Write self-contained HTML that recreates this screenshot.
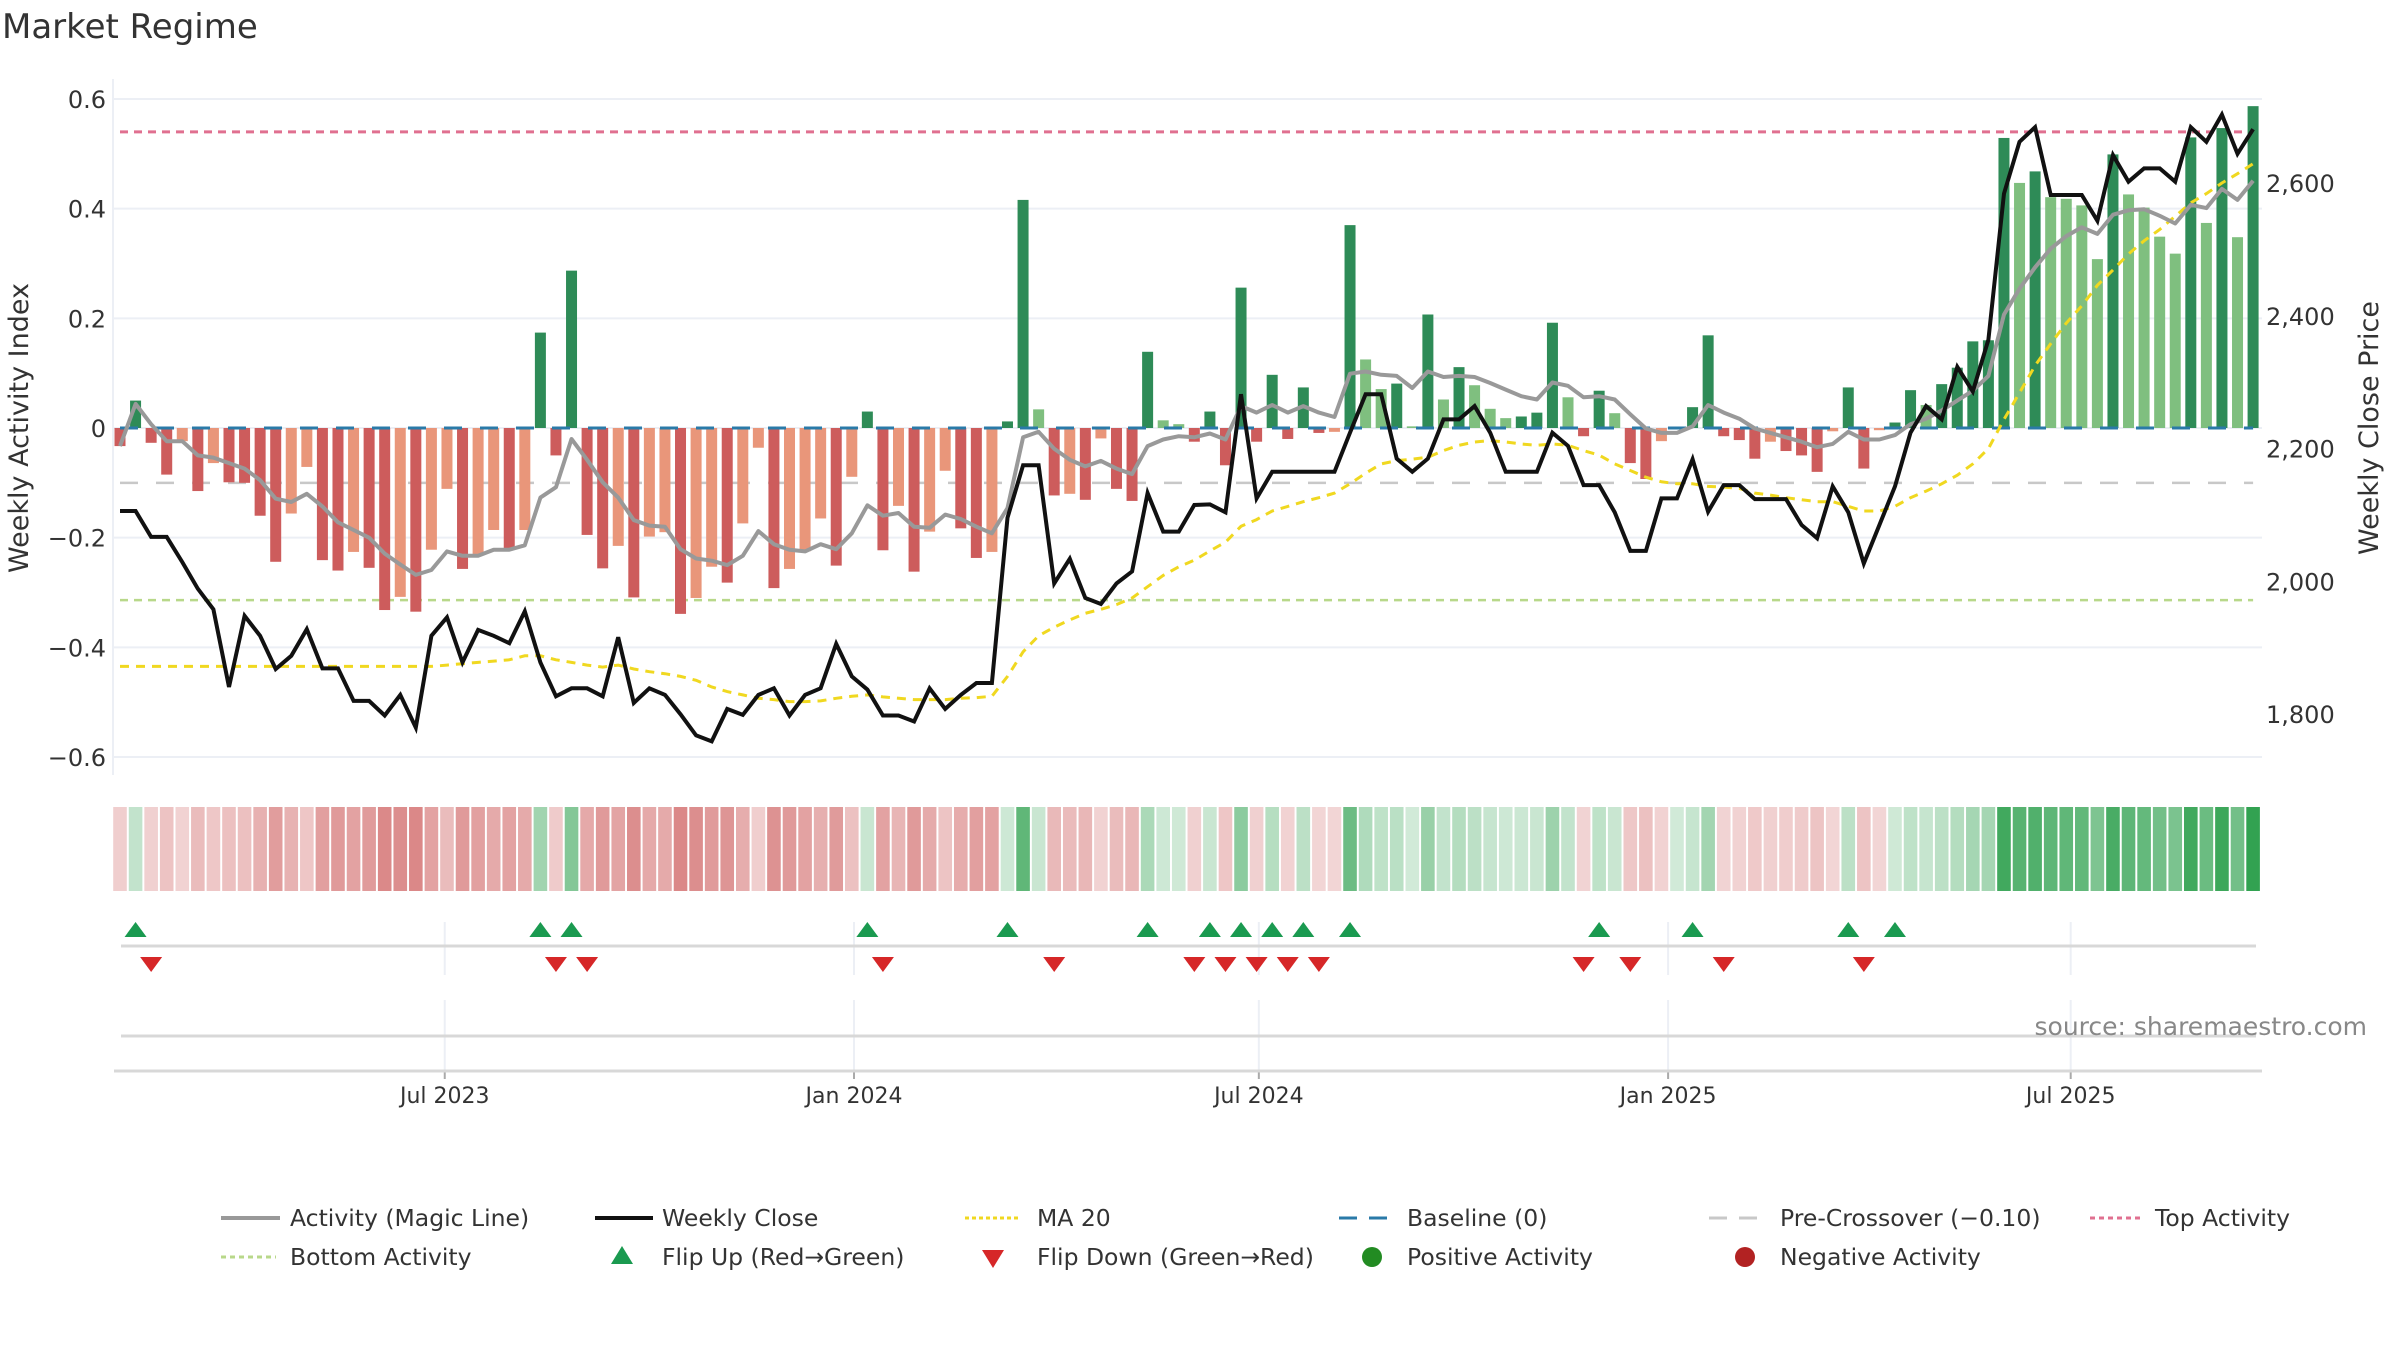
<!DOCTYPE html>
<html><head><meta charset="utf-8"><title>Market Regime</title>
<style>
html,body{margin:0;padding:0;background:#fff;}
svg{display:block;font-family:"DejaVu Sans","Liberation Sans",sans-serif;}
</style></head>
<body>
<svg id="chart" width="2400" height="1350" viewBox="0 0 2400 1350" xmlns="http://www.w3.org/2000/svg">
<rect width="2400" height="1350" fill="#fff"/>
<text x="2" y="38" font-size="34" fill="#333">Market Regime</text>
<g id="grid"></g>
<g id="refs"></g>
<g id="bars"></g>
<g id="lines"></g>
<g id="axes"></g>
<g id="heat"></g>
<g id="dates"></g>
<g id="flips"></g>
<text x="28" y="428" font-size="27" fill="#333" text-anchor="middle" transform="rotate(-90 28 428)">Weekly Activity Index</text>
<text x="2378" y="428" font-size="27" fill="#333" text-anchor="middle" transform="rotate(-90 2378 428)">Weekly Close Price</text>
<text x="2367" y="1035" font-size="25" fill="#888" text-anchor="end">source: sharemaestro.com</text>
<g id="legend" font-size="23.5" fill="#333">
  <g><line x1="221" y1="1218" x2="280" y2="1218" stroke="#999" stroke-width="4"/><text x="290" y="1226">Activity (Magic Line)</text></g>
  <g><line x1="595" y1="1218" x2="653" y2="1218" stroke="#111" stroke-width="4"/><text x="662" y="1226">Weekly Close</text></g>
  <g><line x1="965" y1="1218" x2="1020" y2="1218" stroke="#f0d820" stroke-width="3" stroke-dasharray="4 3"/><text x="1037" y="1226">MA 20</text></g>
  <g><line x1="1339" y1="1218" x2="1393" y2="1218" stroke="#2a7aa8" stroke-width="3" stroke-dasharray="18 12"/><text x="1407" y="1226">Baseline (0)</text></g>
  <g><line x1="1709" y1="1218" x2="1764" y2="1218" stroke="#c8c8c8" stroke-width="3" stroke-dasharray="18 12"/><text x="1780" y="1226">Pre-Crossover (−0.10)</text></g>
  <g><line x1="2090" y1="1218" x2="2141" y2="1218" stroke="#e07090" stroke-width="3" stroke-dasharray="5 4"/><text x="2155" y="1226">Top Activity</text></g>
  <g><line x1="221" y1="1257" x2="276" y2="1257" stroke="#b8d88a" stroke-width="3" stroke-dasharray="5 4"/><text x="290" y="1265">Bottom Activity</text></g>
  <g><polygon points="622,1246 633,1264 611,1264" fill="#1a9a50"/><text x="662" y="1265">Flip Up (Red→Green)</text></g>
  <g><polygon points="982,1250 1004,1250 993,1268" fill="#d62728"/><text x="1037" y="1265">Flip Down (Green→Red)</text></g>
  <g><circle cx="1372" cy="1257" r="10" fill="#228b22"/><text x="1407" y="1265">Positive Activity</text></g>
  <g><circle cx="1745" cy="1257" r="10" fill="#b22222"/><text x="1780" y="1265">Negative Activity</text></g>
</g>
</svg>
<script>
// ---- data ----
const startDate = "2023-02-05";
const activity = [-0.033,0.05,-0.027,-0.085,-0.024,-0.115,-0.064,-0.099,-0.10,-0.16,-0.244,-0.156,-0.071,-0.241,-0.26,-0.226,-0.255,-0.332,-0.308,-0.335,-0.222,-0.111,-0.257,-0.23,-0.186,-0.221,-0.186,0.174,-0.05,0.287,-0.195,-0.256,-0.215,-0.309,-0.198,-0.19,-0.339,-0.31,-0.253,-0.282,-0.174,-0.036,-0.292,-0.257,-0.225,-0.165,-0.251,-0.089,0.03,-0.223,-0.142,-0.262,-0.189,-0.078,-0.183,-0.237,-0.226,0.012,0.416,0.034,-0.123,-0.12,-0.131,-0.019,-0.111,-0.133,0.139,0.014,0.007,-0.025,0.03,-0.068,0.256,-0.025,0.097,-0.02,0.074,-0.009,-0.007,0.37,0.125,0.071,0.081,0.003,0.207,0.052,0.111,0.078,0.035,0.018,0.021,0.028,0.192,0.056,-0.015,0.068,0.027,-0.064,-0.093,-0.024,0,0.038,0.169,-0.015,-0.022,-0.056,-0.025,-0.042,-0.05,-0.08,-0.006,0.074,-0.074,-0.004,0.01,0.069,0.042,0.08,0.11,0.158,0.16,0.529,0.447,0.468,0.421,0.418,0.406,0.308,0.499,0.426,0.402,0.349,0.318,0.53,0.374,0.547,0.348,0.587];
const magicLine = [-0.033,0.044,0.007,-0.024,-0.024,-0.05,-0.054,-0.064,-0.074,-0.095,-0.129,-0.135,-0.12,-0.143,-0.172,-0.186,-0.2,-0.229,-0.249,-0.268,-0.259,-0.225,-0.233,-0.233,-0.222,-0.222,-0.214,-0.127,-0.108,-0.02,-0.058,-0.099,-0.127,-0.168,-0.178,-0.18,-0.221,-0.238,-0.242,-0.25,-0.233,-0.188,-0.212,-0.222,-0.225,-0.212,-0.221,-0.192,-0.141,-0.16,-0.155,-0.18,-0.182,-0.158,-0.166,-0.18,-0.192,-0.146,-0.017,-0.007,-0.038,-0.058,-0.07,-0.06,-0.074,-0.084,-0.033,-0.021,-0.015,-0.017,-0.01,-0.021,0.04,0.028,0.042,0.028,0.04,0.028,0.02,0.099,0.103,0.097,0.095,0.073,0.103,0.093,0.095,0.093,0.082,0.07,0.058,0.052,0.083,0.077,0.056,0.058,0.052,0.025,-0.001,-0.009,-0.009,0.003,0.042,0.028,0.017,-0.001,-0.009,-0.017,-0.025,-0.035,-0.029,-0.007,-0.021,-0.021,-0.013,0.007,0.017,0.032,0.05,0.068,0.095,0.207,0.254,0.293,0.327,0.35,0.366,0.354,0.389,0.397,0.399,0.387,0.373,0.407,0.401,0.436,0.416,0.451];
const weeklyClose = [2106,2106,2067,2067,2029,1989,1958,1841,1948,1918,1868,1888,1928,1869,1869,1820,1820,1798,1829,1780,1918,1946,1878,1927,1918,1907,1955,1878,1827,1839,1839,1827,1916,1817,1839,1829,1800,1768,1759,1808,1799,1829,1839,1798,1829,1839,1906,1857,1837,1798,1798,1789,1839,1808,1829,1847,1847,2096,2175,2175,1997,2034,1975,1966,1997,2015,2133,2075,2075,2115,2116,2104,2282,2125,2165,2165,2165,2165,2165,2224,2282,2282,2185,2165,2185,2244,2244,2264,2224,2165,2165,2165,2224,2204,2145,2145,2104,2046,2046,2125,2125,2184,2105,2145,2145,2124,2124,2124,2085,2065,2143,2104,2027,2085,2143,2224,2264,2244,2323,2286,2364,2584,2662,2684,2582,2582,2582,2543,2642,2602,2622,2622,2602,2684,2662,2703,2644,2681];
const ma20 = [1872,1872,1872,1872,1872,1872,1872,1872,1872,1872,1872,1872,1872,1872,1872,1872,1872,1872,1872,1872,1872,1874,1876,1878,1880,1882,1888,1888,1882,1878,1874,1871,1874,1868,1864,1861,1857,1851,1841,1834,1829,1824,1822,1819,1819,1820,1824,1827,1829,1826,1824,1822,1822,1822,1824,1825,1827,1857,1894,1918,1931,1942,1952,1958,1965,1975,1992,2009,2022,2032,2046,2059,2083,2093,2106,2113,2120,2126,2133,2147,2163,2177,2182,2184,2187,2197,2205,2210,2212,2210,2207,2205,2207,2205,2197,2190,2177,2167,2157,2150,2147,2147,2143,2142,2140,2133,2130,2126,2123,2120,2120,2113,2106,2106,2113,2126,2136,2147,2160,2177,2200,2244,2284,2325,2358,2389,2415,2446,2469,2493,2513,2530,2550,2570,2584,2600,2614,2629];
const leftTicks = [0.6,0.4,0.2,0,-0.2,-0.4,-0.6];
const leftTickLabels = ["0.6","0.4","0.2","0","\u22120.2","\u22120.4","\u22120.6"];
const rightTicks = [2600,2400,2200,2000,1800];
const rightTickLabels = ["2,600","2,400","2,200","2,000","1,800"];
const dateTicks = ["2023-07-01","2024-01-01","2024-07-01","2025-01-01","2025-07-01"];
const dateTickLabels = ["Jul 2023","Jan 2024","Jul 2024","Jan 2025","Jul 2025"];
const topActivity = 0.54;
const bottomActivity = -0.314;
const preCrossover = -0.10;
const baseline = 0;

// ---- scales ----
const NS = "http://www.w3.org/2000/svg";
const X0 = 120, STEP = 15.57;
const PL = 113, PR = 2262;
function xS(k){ return X0 + STEP*k; }
function yL(v){ return 428 - v*548.3; }
function yR(p){ return 183 + (2600-p)*0.664; }
function dateK(d){ return (Date.parse(d) - Date.parse(startDate))/(7*86400000); }
function mk(tag, attrs, parent){
  const e = document.createElementNS(NS, tag);
  for (const a in attrs) e.setAttribute(a, attrs[a]);
  parent.appendChild(e); return e;
}
const G = id => document.getElementById(id);

leftTicks.forEach((t,i)=>{
  const gl = mk('line',{x1:PL,x2:PR,y1:yL(t),y2:yL(t),stroke:'#eceff5','stroke-width':2},G('grid'));
  
  
  const tl = mk('text',{x:106,y:yL(t)+9,'font-size':24,fill:'#333','text-anchor':'end'},G('axes'));
  tl.textContent = leftTickLabels[i];
  
  
});
rightTicks.forEach((t,i)=>{
  const tl = mk('text',{x:2266,y:yR(t)+9,'font-size':24,fill:'#333'},G('axes'));
  tl.textContent = rightTickLabels[i];
  
  
});
const ax = mk('line',{x1:PL,x2:PL,y1:79,y2:775,stroke:'#eceff5','stroke-width':2},G('axes'));



const n = activity.length;
const xa = xS(0), xb = xS(n-1);
const r1 = mk('line',{x1:xa,x2:xb,y1:yL(topActivity),y2:yL(topActivity),stroke:'#e07090','stroke-width':3,'stroke-dasharray':'8 6'},G('refs'));


const r2 = mk('line',{x1:xa,x2:xb,y1:yL(bottomActivity),y2:yL(bottomActivity),stroke:'#b8d88a','stroke-width':2.5,'stroke-dasharray':'8 6'},G('refs'));


const r3 = mk('line',{x1:xa,x2:xb,y1:yL(preCrossover),y2:yL(preCrossover),stroke:'#c8c8c8','stroke-width':2.5,'stroke-dasharray':'18 18'},G('refs'));



activity.forEach((v,k)=>{
  const prev = k>0 ? activity[k-1] : v;
  let fill;
  if (v >= 0) fill = (k===0 || v >= prev) ? '#2e8b57' : '#7fbf7f';
  else fill = (k===0 || v <= prev) ? '#cd5c5c' : '#e9967a';
  const y0 = yL(0), y1 = yL(v);
  const b = mk('rect',{x:xS(k)-5.5,width:11,y:Math.min(y0,y1),height:Math.max(0.5,Math.abs(y1-y0)),fill:fill},G('bars'));
  
  
});
const bl = mk('line',{x1:xa,x2:xb,y1:yL(baseline),y2:yL(baseline),stroke:'#2a7aa8','stroke-width':3,'stroke-dasharray':'18 18'},G('refs'));


G('bars').after(bl);

function path(arr, yf){ return arr.map((v,k)=>(k?'L':'M')+xS(k).toFixed(1)+','+yf(v).toFixed(1)).join(''); }
const pMa = mk('path',{d:path(ma20,yR),fill:'none',stroke:'#f0d820','stroke-width':3,'stroke-dasharray':'9 7'},G('lines'));


const pMg = mk('path',{d:path(magicLine,yL),fill:'none',stroke:'#999','stroke-width':4,'stroke-linejoin':'round'},G('lines'));


const pCl = mk('path',{d:path(weeklyClose,yR),fill:'none',stroke:'#111','stroke-width':4,'stroke-linejoin':'miter'},G('lines'));



activity.forEach((v,k)=>{
  const a = Math.min(1, 0.22 + 0.78*Math.abs(v)/0.6);
  const fill = v >= 0 ? 'rgba(46,160,78,'+a.toFixed(2)+')' : 'rgba(205,92,92,'+(0.25+0.5*Math.abs(v)/0.35).toFixed(2)+')';
  const c = mk('rect',{x:xS(k)-6.8,width:13.6,y:807,height:84,fill:fill},G('heat'));
  
  
});

dateTicks.forEach((d,i)=>{
  const x = xS(dateK(d));
  const v1 = mk('line',{x1:x,x2:x,y1:922,y2:975,stroke:'#eceff5','stroke-width':2},G('dates'));
  
  
  const v2 = mk('line',{x1:x,x2:x,y1:1000,y2:1070,stroke:'#eceff5','stroke-width':2},G('dates'));
  
  
  const tk = mk('line',{x1:x,x2:x,y1:1071,y2:1079,stroke:'#aaa','stroke-width':2},G('dates'));
  
  
  const tl = mk('text',{x:x,y:1103,'font-size':22,fill:'#333','text-anchor':'middle'},G('dates'));
  tl.textContent = dateTickLabels[i];
  
  
});
const h1 = mk('line',{x1:121,x2:2256,y1:946,y2:946,stroke:'#d8d8d8','stroke-width':3},G('dates'));


const h2 = mk('line',{x1:121,x2:2256,y1:1036,y2:1036,stroke:'#d8d8d8','stroke-width':3},G('dates'));


const h3 = mk('line',{x1:114,x2:2262,y1:1071,y2:1071,stroke:'#d8d8d8','stroke-width':3},G('dates'));



activity.forEach((v,k)=>{
  if (k===0) return;
  const p = activity[k-1];
  const x = xS(k);
  if (v > 0 && p <= 0){
    const t = mk('polygon',{points:`${x},922 ${x+11},937 ${x-11},937`,fill:'#1a9a50'},G('flips'));
    
    
  } else if (v < 0 && p >= 0){
    const t = mk('polygon',{points:`${x-11},957 ${x+11},957 ${x},972`,fill:'#d62728'},G('flips'));
    
    
  }
});
</script>
</body></html>
